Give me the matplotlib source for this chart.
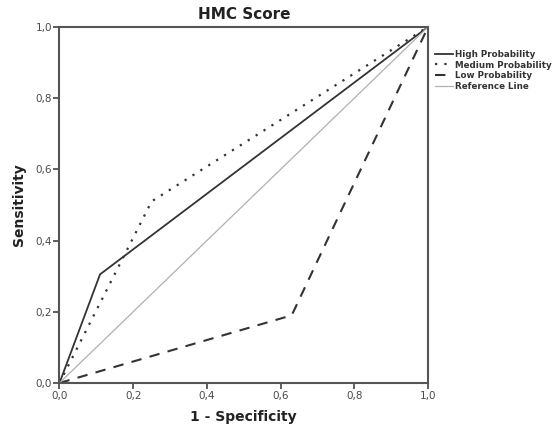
import matplotlib
matplotlib.use("Agg")
import matplotlib.pyplot as plt
from matplotlib.ticker import FuncFormatter

# ROC points (1 - specificity, sensitivity)
high_fpr = [0.0, 0.11, 1.0]
high_tpr = [0.0, 0.305, 1.0]
medium_fpr = [0.0, 0.25, 1.0]
medium_tpr = [0.0, 0.51, 1.0]
low_fpr = [0.0, 0.63, 1.0]
low_tpr = [0.0, 0.19, 1.0]
ref_x = [0.0, 1.0]
ref_y = [0.0, 1.0]

series_labels = ["High Probability", "Medium Probability", "Low Probability", "Reference Line"]
tick_values = [0.0, 0.2, 0.4, 0.6, 0.8, 1.0]

fig = plt.figure(figsize=(5.56, 4.26), dpi=100)
ax = fig.add_axes([0.107, 0.101, 0.663, 0.836])

line_col = "#333333"
ax.plot(high_fpr, high_tpr, color=line_col, lw=1.3, label=series_labels[0])
ax.plot(medium_fpr, medium_tpr, color=line_col, lw=1.6, linestyle=(0, (1, 3.2)),
        label=series_labels[1])
ax.plot(low_fpr, low_tpr, color=line_col, lw=1.5, linestyle=(0, (5, 4)),
        label=series_labels[2])
ax.plot(ref_x, ref_y, color="#b0b0b0", lw=0.9, label=series_labels[3])

ax.set_xlim(0, 1)
ax.set_ylim(0, 1)
ax.set_xticks(tick_values)
ax.set_yticks(tick_values)
fmt = FuncFormatter(lambda v, pos: f"{v:.1f}".replace(".", ","))
ax.xaxis.set_major_formatter(fmt)
ax.yaxis.set_major_formatter(fmt)
ax.tick_params(direction="out", length=4, width=1.2, color="#444444",
               labelsize=7.5, labelcolor="#4a4a4a", pad=1.5)

for sp in ax.spines.values():
    sp.set_color("#555555")
    sp.set_linewidth(1.5)

ax.set_title("HMC Score", fontsize=11, fontweight="bold", color="#222222", pad=6)
ax.set_xlabel("1 - Specificity", fontsize=10, fontweight="bold", color="#222222", labelpad=7)
ax.set_ylabel("Sensitivity", fontsize=10, fontweight="bold", color="#222222", labelpad=7)

leg = ax.legend(loc="upper left", bbox_to_anchor=(1.01, 0.945), frameon=False,
                fontsize=6.3, handlelength=2.0, handletextpad=0.2,
                labelspacing=0.18, borderaxespad=0.0)
for t in leg.get_texts():
    t.set_fontweight("bold")
    t.set_color("#333333")

fig.savefig("out.png", dpi=100)
